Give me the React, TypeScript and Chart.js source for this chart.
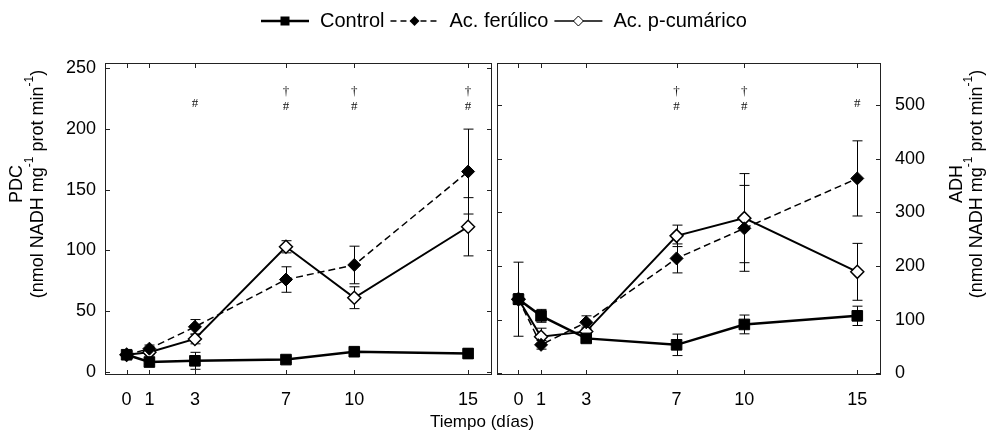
import { useEffect, useRef } from 'react';
import { Chart, registerables } from 'chart.js';
Chart.register(...registerables);

const FONT = "'Liberation Sans', Arial, Helvetica, sans-serif";

const days = [0, 1, 3, 7, 10, 15];
const seriesLabels = ['Control', 'Ac. ferúlico', 'Ac. p-cumárico'];
const xTitle = 'Tiempo (días)';

// PDC panel (left)
const pdcControl = [14, 8, 9, 10, 16.5, 15];
const pdcControlErr = [3, 2, 7, 2.5, 3, 4];
const pdcFerulico = [14, 19, 37, 76, 88, 165];
const pdcFerulicoErr = [3, 3, 6, 10.5, 15.5, 35];
const pdcCumarico = [14, 16, 27, 103, 61, 119.5];
const pdcCumaricoErr = [3, 2, 4, 5, 9, 24];
const pdcTicks = [0, 50, 100, 150, 200, 250];
const pdcMarkDays = [3, 7, 10, 15];
const pdcMarkText = ['#', '†#', '†#', '†#'];
const pdcTitle = 'PDC';

// ADH panel (right)
const adhControl = [138, 107, 65, 53, 91, 107];
const adhControlErr = [69, 12, 6, 20, 17.5, 18];
const adhFerulico = [138, 53, 95, 214, 270, 363];
const adhFerulicoErr = [10, 8, 12, 27, 80, 70];
const adhCumarico = [138, 68, 78, 256, 289, 189];
const adhCumaricoErr = [10, 16, 8, 20, 83, 53];
const adhTicks = [0, 100, 200, 300, 400, 500];
const adhMarkDays = [7, 10, 15];
const adhMarkText = ['†#', '†#', '#'];
const adhTitle = 'ADH';

// unit line: text segments, superscript flags
const unitText = ['(nmol NADH mg', '-1', ' prot min', '-1', ')'];
const unitSup = [false, true, false, true, false];

const W = 988;
const H = 445;

function pts(vals: number[]) {
  return days.map((d, i) => ({ x: d, y: vals[i] }));
}

function makeDatasets(ctrl: number[], fer: number[], cum: number[]) {
  return [
    {
      label: seriesLabels[0], data: pts(ctrl), borderColor: '#000', borderWidth: 2.5,
      pointStyle: 'rect', pointRadius: 7.5, pointBackgroundColor: '#000', pointBorderColor: '#000', pointBorderWidth: 1,
    },
    {
      label: seriesLabels[1], data: pts(fer), borderColor: '#000', borderWidth: 1.5, borderDash: [7, 4],
      pointStyle: 'rectRot', pointRadius: 6.5, pointBackgroundColor: '#000', pointBorderColor: '#000', pointBorderWidth: 1,
    },
    {
      label: seriesLabels[2], data: pts(cum), borderColor: '#000', borderWidth: 2,
      pointStyle: 'rectRot', pointRadius: 6.5, pointBackgroundColor: '#fff', pointBorderColor: '#000', pointBorderWidth: 1.5,
    },
  ];
}

function drawYTitle(ctx: CanvasRenderingContext2D, cx1: number, cx2: number, cy: number, title: string) {
  ctx.save();
  ctx.fillStyle = '#000';
  ctx.textBaseline = 'middle';
  ctx.translate(cx1, cy);
  ctx.rotate(-Math.PI / 2);
  ctx.font = `18px ${FONT}`;
  ctx.textAlign = 'center';
  ctx.fillText(title, 0, 0);
  ctx.restore();

  ctx.save();
  ctx.fillStyle = '#000';
  ctx.textBaseline = 'middle';
  ctx.translate(cx2, cy);
  ctx.rotate(-Math.PI / 2);
  ctx.textAlign = 'left';
  const widths = unitText.map((t, i) => {
    ctx.font = unitSup[i] ? `12px ${FONT}` : `18px ${FONT}`;
    return ctx.measureText(t).width;
  });
  const total = widths.reduce((a, b) => a + b, 0);
  let x = -total / 2;
  unitText.forEach((t, i) => {
    ctx.font = unitSup[i] ? `12px ${FONT}` : `18px ${FONT}`;
    ctx.fillText(t, x, unitSup[i] ? -8 : 0);
    x += widths[i];
  });
  ctx.restore();
}

function panelPlugin(errs: number[][], yTicks: number[], markDays: number[], markText: string[], title: string, titleX1: number, titleX2: number) {
  return {
    id: 'panel',
    beforeDatasetsDraw(chart: any) {
      const { ctx } = chart;
      const xs = chart.scales.x;
      const ys = chart.scales.y;
      ctx.save();
      ctx.strokeStyle = '#000';
      ctx.lineWidth = 1;
      errs.forEach((e, di) => {
        const data = chart.data.datasets[di].data;
        data.forEach((p: any, i: number) => {
          if (!e[i]) return;
          const px = Math.round(xs.getPixelForValue(p.x)) + 0.5;
          const t = ys.getPixelForValue(p.y + e[i]);
          const b = ys.getPixelForValue(p.y - e[i]);
          ctx.beginPath();
          ctx.moveTo(px, t);
          ctx.lineTo(px, b);
          ctx.moveTo(px - 5, t);
          ctx.lineTo(px + 5, t);
          ctx.moveTo(px - 5, b);
          ctx.lineTo(px + 5, b);
          ctx.stroke();
        });
      });
      ctx.restore();
    },
    afterDraw(chart: any) {
      const { ctx, chartArea } = chart;
      const { left, right, top, bottom } = chartArea;
      const xs = chart.scales.x;
      const ys = chart.scales.y;
      ctx.save();
      ctx.strokeStyle = '#222';
      ctx.lineWidth = 1;
      ctx.strokeRect(Math.round(left) + 0.5, Math.round(top) + 0.5, Math.round(right - left) - 1, Math.round(bottom - top) - 1);
      ctx.beginPath();
      days.forEach((d) => {
        const px = Math.round(xs.getPixelForValue(d)) + 0.5;
        ctx.moveTo(px, bottom);
        ctx.lineTo(px, bottom - 5);
        ctx.moveTo(px, top);
        ctx.lineTo(px, top + 5);
      });
      yTicks.forEach((v) => {
        const py = Math.round(ys.getPixelForValue(v)) + 0.5;
        ctx.moveTo(left, py);
        ctx.lineTo(left + 5, py);
        ctx.moveTo(right, py);
        ctx.lineTo(right - 5, py);
      });
      ctx.stroke();

      ctx.fillStyle = '#111';
      ctx.font = `13px 'Liberation Serif', serif`;
      ctx.textAlign = 'center';
      ctx.textBaseline = 'middle';
      markDays.forEach((d, i) => {
        const px = xs.getPixelForValue(d);
        const t = markText[i];
        if (t.length === 2) {
          ctx.fillText(t[0], px, top + 29);
          ctx.fillText(t[1], px, top + 44);
        } else {
          ctx.fillText(t, px, top + 41);
        }
      });
      ctx.restore();
      drawYTitle(ctx, titleX1, titleX2, 184, title);
    },
  };
}

const legendPlugin = {
  id: 'legendTop',
  afterDraw(chart: any) {
    const ctx: CanvasRenderingContext2D = chart.ctx;
    ctx.save();
    ctx.font = `20px ${FONT}`;
    ctx.textBaseline = 'middle';
    ctx.fillStyle = '#000';
    ctx.strokeStyle = '#000';
    const y = 21;
    let x = 261;
    seriesLabels.forEach((lab, i) => {
      ctx.beginPath();
      ctx.lineWidth = i === 0 ? 2.5 : 1.3;
      ctx.setLineDash(i === 1 ? [6, 4] : []);
      ctx.moveTo(x, y);
      ctx.lineTo(x + 48, y);
      ctx.stroke();
      ctx.setLineDash([]);
      const mx = x + 24;
      if (i === 0) {
        ctx.fillRect(mx - 4.5, y - 4.5, 9, 9);
      } else {
        ctx.beginPath();
        ctx.moveTo(mx - 5, y);
        ctx.lineTo(mx, y - 5);
        ctx.lineTo(mx + 5, y);
        ctx.lineTo(mx, y + 5);
        ctx.closePath();
        if (i === 1) {
          ctx.fill();
        } else {
          ctx.fillStyle = '#fff';
          ctx.fill();
          ctx.lineWidth = 1;
          ctx.stroke();
          ctx.fillStyle = '#000';
        }
      }
      x += 48 + 11;
      ctx.fillText(lab, x, y);
      x += ctx.measureText(lab).width + 6;
    });
    ctx.font = `17px ${FONT}`;
    ctx.textAlign = 'center';
    ctx.fillText(xTitle, 482, 422);
    ctx.restore();
  },
};

function scalesFor(side: 'left' | 'right', yMin: number, yMax: number, yTicks: number[], yWidth: number, yPad: number) {
  const tickFont = { family: FONT, size: 18 };
  return {
    x: {
      type: 'linear', min: -0.95, max: 16.05,
      grid: { display: false, drawTicks: false }, border: { display: false },
      afterBuildTicks: (a: any) => { a.ticks = days.map((v) => ({ value: v })); },
      afterFit: (a: any) => { a.height = 70; },
      ticks: { autoSkip: false, maxRotation: 0, padding: 14, color: '#000', font: tickFont, callback: (v: any) => String(v) },
    },
    y: {
      type: 'linear', position: side, min: yMin, max: yMax,
      grid: { display: false, drawTicks: false }, border: { display: false },
      afterBuildTicks: (a: any) => { a.ticks = yTicks.map((v) => ({ value: v })); },
      afterFit: (a: any) => { a.width = yWidth; },
      ticks: { autoSkip: false, padding: yPad, color: '#000', font: tickFont, callback: (v: any) => String(v) },
    },
  };
}

export default function App() {
  const leftRef = useRef<HTMLCanvasElement>(null);
  const rightRef = useRef<HTMLCanvasElement>(null);

  useEffect(() => {
    const a = new Chart(leftRef.current as HTMLCanvasElement, {
      type: 'line',
      data: { datasets: makeDatasets(pdcControl, pdcFerulico, pdcCumarico) as any },
      options: {
        responsive: false, animation: false,
        layout: { padding: { top: 63, right: 496, left: 0, bottom: 0 } },
        plugins: { legend: { display: false }, tooltip: { enabled: false } },
        scales: scalesFor('left', -2.7, 254.5, pdcTicks, 105, 9) as any,
      },
      plugins: [panelPlugin([pdcControlErr, pdcFerulicoErr, pdcCumaricoErr], pdcTicks, pdcMarkDays, pdcMarkText, pdcTitle, 17, 38), legendPlugin],
    });
    const b = new Chart(rightRef.current as HTMLCanvasElement, {
      type: 'line',
      data: { datasets: makeDatasets(adhControl, adhFerulico, adhCumarico) as any },
      options: {
        responsive: false, animation: false,
        layout: { padding: { top: 63, right: 0, left: 497, bottom: 0 } },
        plugins: { legend: { display: false }, tooltip: { enabled: false } },
        scales: scalesFor('right', -3.2, 578, adhTicks, 107, 14) as any,
      },
      plugins: [panelPlugin([adhControlErr, adhFerulicoErr, adhCumaricoErr], adhTicks, adhMarkDays, adhMarkText, adhTitle, 957, 977)],
    });
    return () => { a.destroy(); b.destroy(); };
  }, []);

  return (
    <div style={{ position: 'absolute', left: 0, top: 0, width: W, height: H, background: '#fff' }}>
      <canvas ref={leftRef} width={W} height={H} style={{ position: 'absolute', left: 0, top: 0 }} />
      <canvas ref={rightRef} width={W} height={H} style={{ position: 'absolute', left: 0, top: 0 }} />
    </div>
  );
}
